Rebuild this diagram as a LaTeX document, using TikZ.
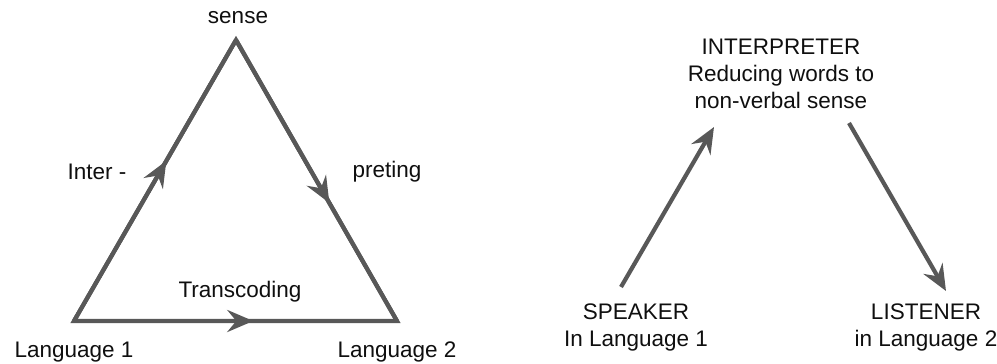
\documentclass[tikz,border=0pt]{standalone}
\usepackage{fontspec}
\setmainfont{Liberation Sans}
\usetikzlibrary{arrows.meta,decorations.markings}
\definecolor{linegray}{RGB}{88,88,88}
\definecolor{textgray}{RGB}{15,15,15}
\tikzset{
  lbl/.style={text=textgray,font=\fontsize{22.5}{27}\selectfont,inner sep=0pt,align=center},
  edge/.style={draw=linegray,line width=4.2pt,line cap=butt,line join=miter},
  midarrow/.style={postaction={decorate},decoration={markings,mark=at position #1 with {\arrow[linegray]{Stealth[length=26pt,width=22pt,inset=9pt]}}}}
}
\begin{document}
\begin{tikzpicture}[x=1pt,y=-1pt]
\useasboundingbox (0,0) rectangle (997,364);
% left triangle
\coordinate (top) at (236,40);
\coordinate (bl) at (74,321);
\coordinate (br) at (397,321);
\draw[edge,midarrow=0.57] (bl) -- (top);
\draw[edge,midarrow=0.58] (top) -- (br);
\draw[edge,midarrow=0.555] (bl) -- (br);
\draw[edge] (bl) -- (top) -- (br) -- cycle;
\node[lbl] (sense) at (238,18) {sense};
\node[lbl] (inter) at (97,172) {Inter -};
\node[lbl] (preting) at (387,172) {preting};
\node[lbl] (transc) at (240,292) {Transcoding};
\node[lbl] (lang1) at (74,352) {Language 1};
\node[lbl] (lang2) at (397,352) {Language 2};
% right diagram
\node[lbl,align=center] (interp) at (781,74) {INTERPRETER\\[0pt]Reducing words to\\[0pt]non-verbal sense};
\node[lbl] (speaker) at (636,327) {SPEAKER\\[0pt]In Language 1};
\node[lbl] (listener) at (926,327) {LISTENER\\[0pt]in Language 2};
\coordinate (a1s) at (621,287);
\coordinate (a1e) at (714,127);
\coordinate (a2s) at (849,123);
\coordinate (a2e) at (946,291);
\draw[edge,-{Stealth[length=26pt,width=22pt,inset=9pt]}] (a1s) -- (a1e);
\draw[edge,-{Stealth[length=26pt,width=22pt,inset=9pt]}] (a2s) -- (a2e);
\end{tikzpicture}
\end{document}
